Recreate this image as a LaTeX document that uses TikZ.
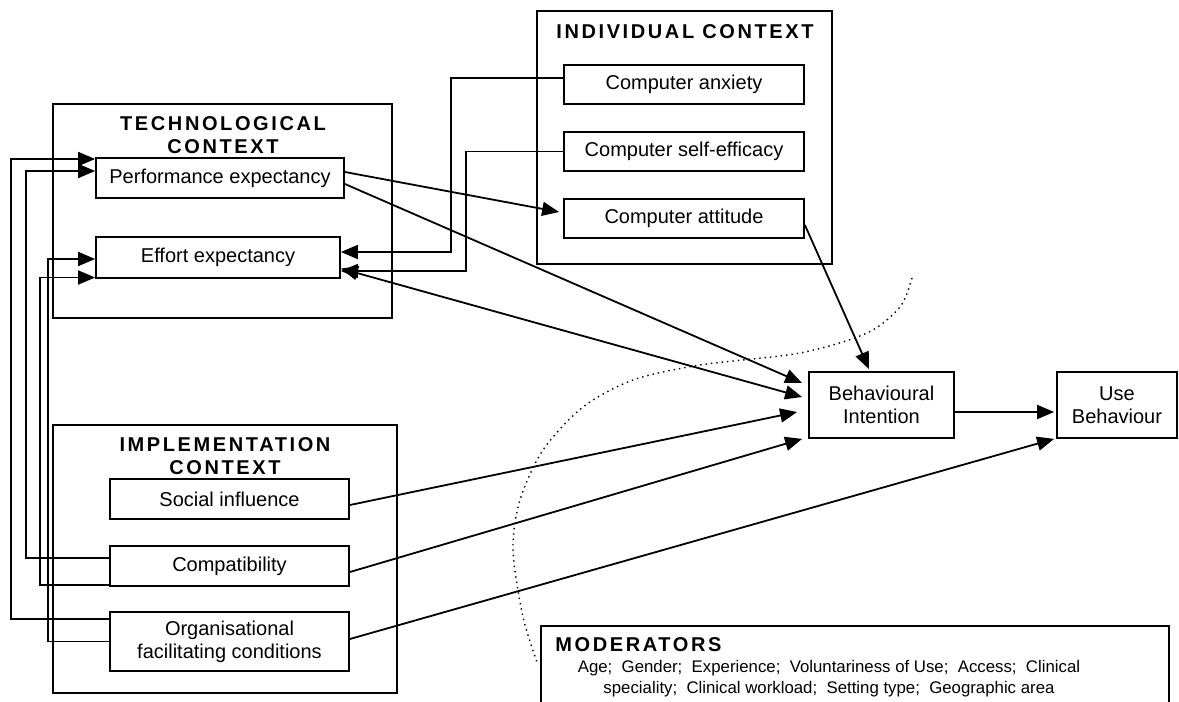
\documentclass[tikz,border=0pt]{standalone}
\usepackage{fontspec}
\setmainfont{Liberation Sans}
\newfontfamily\ttlfont[LetterSpace=13]{Liberation Sans}
\usetikzlibrary{arrows.meta,calc}
\begin{document}
\begin{tikzpicture}[x=0.5pt,y=-0.5pt,
  box/.style={draw,line width=0.9pt,inner sep=0pt,align=center,font=\fontsize{10}{11.5}\selectfont},
  frame/.style={draw,line width=0.9pt,inner sep=0pt},
  ttl/.style={inner sep=0pt,align=center,font=\ttlfont\bfseries\fontsize{10}{11.5}\selectfont},
  conn/.style={line width=0.9pt},
  arr/.style={conn,-{Triangle[length=8.5pt,width=7pt]}},
  dbl/.style={conn,{Triangle[length=8.5pt,width=7pt]}-{Triangle[length=8.5pt,width=7pt]}},
  modtext/.style={inner sep=0pt,align=center,font=\fontsize{8.4}{10.5}\selectfont}]
\useasboundingbox (0,0) rectangle (1179,702);
\clip (0,0) rectangle (1179,702);
\fill[white] (0,0) rectangle (1179,702);

% context frames
\node[frame,minimum width=169.5pt,minimum height=107pt] (tech) at (222.5,211) {};
\node[frame,minimum width=147.5pt,minimum height=126.5pt] (indiv) at (684.5,137.5) {};
\node[frame,minimum width=172pt,minimum height=134pt] (impl) at (225,559) {};
\node[frame,minimum width=314pt,minimum height=44pt] (mod) at (855,670) {};

% titles
\node[ttl] (techT) at (223,135.5) {TECHNOLOGICAL\\CONTEXT};
\node[ttl] (impT) at (225,456.5) {IMPLEMENTATION\\CONTEXT};
\node[ttl] (indT) at (685,32) {INDIVIDUAL CONTEXT};
\node[ttl,anchor=west] (modT) at (555,645) {MODERATORS};
\node[modtext] (modL) at (829,678.5) {Age;\ \ Gender;\ \ Experience;\ \ Voluntariness of Use;\ \ Access;\ \ Clinical\\speciality;\ \ Clinical workload;\ \ Setting type;\ \ Geographic area};

% boxes
\node[box,minimum width=124pt,minimum height=20pt] (perf) at (220,178) {Performance expectancy};
\node[box,minimum width=122pt,minimum height=20.5pt] (effort) at (218,257.5) {Effort expectancy};
\node[box,minimum width=120pt,minimum height=19.5pt] (anx) at (684,84.5) {Computer anxiety};
\node[box,minimum width=120pt,minimum height=19.5pt] (selfeff) at (684,151.5) {Computer self-efficacy};
\node[box,minimum width=120pt,minimum height=19.5pt] (att) at (684,218.5) {Computer attitude};
\node[box,minimum width=119.5pt,minimum height=20pt] (social) at (229.5,499) {Social influence};
\node[box,minimum width=119.5pt,minimum height=20pt] (compat) at (229.5,566) {Compatibility};
\node[box,minimum width=119.5pt,minimum height=29.5pt] (org) at (229.5,641.5) {Organisational\\facilitating conditions};
\node[box,minimum width=72.5pt,minimum height=33pt] (bi) at (881.5,405) {Behavioural\\Intention};
\node[box,minimum width=60pt,minimum height=33pt] (ub) at (1117,405) {Use\\Behaviour};

% left feedback connectors
\draw[arr] ($(org.west)+(0,-22.5)$) -- ++(-98,0) |- ($(perf.west)+(0,-19)$);
\draw[arr] ($(compat.west)+(0,-8)$) -- ++(-83,0) |- ($(perf.west)+(0,-7)$);
\draw[arr] (org.west) -- ++(-61,0) |- ($(effort.west)+(0,1.5)$);
\draw[arr] ($(compat.west)+(0,19)$) -- ++(-69,0) |- ($(effort.west)+(0,20)$);

% individual context to effort
\draw[arr] ($(anx.west)+(0,-6.5)$) -- ++(-112,0) |- ($(effort.east)+(0,-5.5)$);
\draw[arr] (selfeff.west) -- ++(-97,0) |- ($(effort.east)+(0,13.5)$);

% to behavioural intention
\draw[dbl] ($(effort.east)+(0,11)$) -- ($(bi.west)+(-6,-8)$);
\draw[arr] ($(perf.east)+(0,-6)$) -- ($(att.west)+(-4,-6.5)$);
\draw[arr] ($(perf.east)+(0,6)$) -- ($(bi.west)+(-6,-22)$);
\draw[arr] ($(att.east)+(0,6.5)$) -- ($(bi.north)+(-12.5,-2)$);
\draw[arr] ($(social.east)+(0,6)$) -- ($(bi.west)+(-11,7)$);
\draw[arr] ($(compat.east)+(0,6)$) -- ($(bi.south west)+(-6,0)$);
\draw[arr] ($(org.east)+(0,-2.5)$) -- ($(ub.south west)+(-2,0)$);
\draw[arr] ($(bi.east)+(0,7)$) -- ($(ub.west)+(-2,7)$);

% moderator boundary
\draw[dotted,line width=0.7pt] plot[smooth] coordinates {(912,278) (900,307) (867,333) (800,353) (700,365) (633,380) (583,407) (543,450) (520,500) (513,550) (523,617) (538,665)};
\end{tikzpicture}
\end{document}
